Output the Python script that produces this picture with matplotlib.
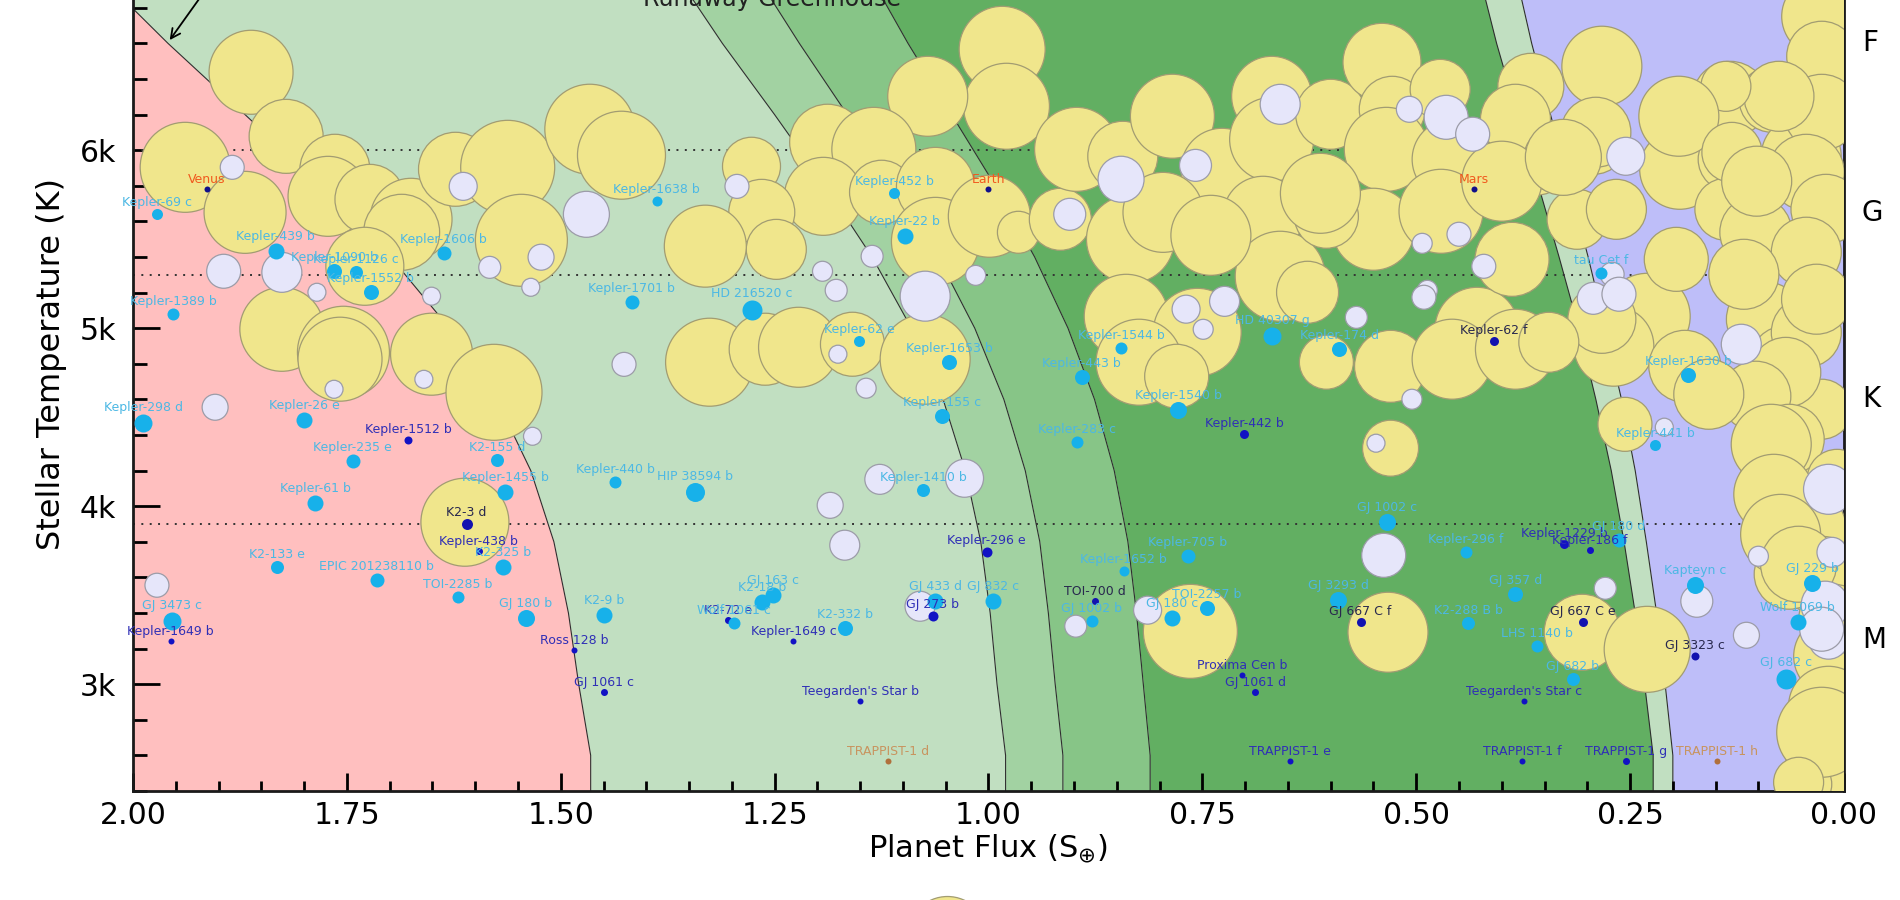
import numpy as np
import matplotlib
matplotlib.use("Agg")
import matplotlib.pyplot as plt
from matplotlib.ticker import MultipleLocator, FuncFormatter

# habitable zone limits: planet flux (S_earth) at each stellar temperature (K)
hz_temp = [2400, 2600, 3000, 3400, 3800, 4200, 4600, 5000, 5400, 5800, 6200, 6600, 7000, 7200]
recent_venus = [1.465, 1.465, 1.479, 1.491, 1.508, 1.535, 1.575, 1.630, 1.699, 1.780, 1.869, 1.959, 2.043, 2.080]
runaway_5me = [0.980, 0.980, 0.990, 0.998, 1.009, 1.027, 1.053, 1.090, 1.136, 1.191, 1.250, 1.311, 1.367, 1.392]
runaway_1me = [0.913, 0.913, 0.922, 0.930, 0.940, 0.957, 0.982, 1.016, 1.059, 1.110, 1.165, 1.221, 1.274, 1.296]
runaway_01me = [0.811, 0.811, 0.819, 0.827, 0.837, 0.853, 0.876, 0.907, 0.946, 0.992, 1.043, 1.094, 1.141, 1.162]
max_greenhouse = [0.223, 0.223, 0.233, 0.244, 0.257, 0.272, 0.290, 0.310, 0.333, 0.357, 0.382, 0.406, 0.427, 0.436]
early_mars = [0.200, 0.200, 0.209, 0.219, 0.231, 0.244, 0.260, 0.279, 0.299, 0.321, 0.343, 0.365, 0.384, 0.392]

# big yellow bubbles (flux, temperature, radius)
yellow_flux = [1.862, 1.821, 1.939, 1.869, 1.764, 1.772, 1.723, 1.675, 1.686, 1.729, 1.826, 1.754, 1.758, 1.651,
               1.578, 1.623, 1.562, 1.546, 1.466, 1.429, 1.612,
               0.984, 0.979, 1.071, 1.188, 1.134, 1.277, 1.193, 1.125, 1.062, 1.265, 1.248, 1.331, 1.062, 0.999,
               0.965, 0.916, 0.897, 0.843, 0.785, 0.727, 0.834, 0.796, 0.669, 0.669, 0.679, 0.659, 0.839, 0.756,
               0.824, 0.780, 1.326, 1.261, 1.222, 1.159, 1.074,
               0.600, 0.540, 0.528, 0.472, 0.535, 0.458, 0.366, 0.283, 0.361, 0.384, 0.293, 0.133, 0.084, 0.192,
               0.133, 0.138, 0.050, 0.312, 0.550, 0.605, 0.627, 0.429, 0.388, 0.530, 0.605, 0.458, 0.384, 0.230,
               0.269, 0.186, 0.093, 0.070, 0.256, 0.530, 0.026, 0.026, 0.026, 0.026, 0.076, 0.138, 0.193, 0.131,
               0.044, 0.266, 0.196, 0.103, 0.021, 0.044, 0.336, 0.290, 0.283, 0.044, 0.068, 0.345, 0.103, 0.084,
               0.064, 0.044, 0.026, 0.012, 0.018, 0.023, 0.306, 0.230, 0.533, 0.764, 0.064, 0.008, 0.006, 0.012,
               0.047, 0.612, 0.471, 0.400, 0.740, 0.328, 0.102, 0.117, 0.032, 0.064,
               0.085, 0.082, 0.074, 0.053, 0.026, 0.053, 0.158]
yellow_temp = [6438, 6078, 5904, 5651, 5893, 5741, 5724, 5612, 5539, 5348, 4994, 4865, 4826, 4854,
               4640, 5893, 5904, 5494, 6118, 5972, 3910,
               6567, 6247, 6303, 6045, 6005, 5910, 5741, 5764, 5797, 5651, 5443, 5461, 5488, 5629,
               5539, 5612, 6005, 5966, 6191, 5893, 5500, 5651, 6303, 6061, 5629, 5292, 5067, 4977,
               4809, 4730, 4809, 4882, 4893, 4910, 4826,
               6202, 6494, 6230, 6342, 6005, 5949, 6359, 6472, 5966, 6174, 6061, 6286, 6286, 5893,
               5949, 5668, 5966, 5612, 5556, 5629, 5202, 4994, 5387, 4786, 4809, 4826, 4882, 5067,
               4899, 4786, 5050, 4826, 4460, 4326, 4545, 6752, 6528, 6213, 6303, 6359, 6191, 5988,
               5876, 5668, 5387, 5539, 5668, 5427, 5949, 6101, 5050, 4977, 4752, 4921, 4618, 4135,
               4135, 3870, 3606, 3157, 2876, 2505, 3292, 3196, 3292, 3297, 4376, 4151, 2410, 3365,
               2438, 5758, 5657, 5826, 5522, 5960, 5826, 5303, 5163, 3618,
               4348, 4067, 3842, 3674, 2730, 2449, 4629]
yellow_rad = [42, 37, 45, 41, 35, 40, 35, 41, 38, 39, 42, 46, 42, 41,
              48, 37, 47, 46, 45, 44, 44,
              43, 43, 40, 38, 42, 29, 39, 32, 39, 33, 30, 41, 44, 41,
              21, 31, 42, 35, 42, 41, 44, 40, 40, 42, 40, 45, 42, 44,
              43, 32, 44, 36, 40, 32, 45,
              35, 39, 33, 30, 42, 40, 33, 40, 39, 35, 35, 38, 33, 40,
              32, 31, 40, 30, 41, 32, 31, 42, 37, 36, 27, 40, 40, 43,
              40, 36, 38, 33, 27, 28, 30, 40, 35, 38, 35, 25, 40, 30,
              38, 30, 32, 36, 35, 35, 33, 35, 34, 35, 35, 30, 35, 33,
              28, 40, 40, 40, 40, 40, 38, 43, 40, 47, 35, 30, 40, 35,
              28, 40, 42, 40, 40, 38, 35, 35, 35, 35,
              40, 40, 40, 38, 45, 25, 35]

# lavender bubbles
lav_flux = [1.884, 1.894, 1.826, 1.785, 1.651, 1.614, 1.583, 1.523, 1.535, 1.470, 1.904, 1.765, 1.660, 1.426,
            1.533, 1.294, 1.136, 1.194, 1.178, 1.074, 1.015, 0.905, 0.845, 0.758, 0.659, 1.176, 1.143, 0.769,
            0.749, 0.724, 0.508, 0.465, 0.434, 0.255, 0.450, 0.493, 0.421, 0.487, 0.491, 0.570, 0.271, 0.293,
            0.263, 0.120, 0.505, 0.547, 0.210, 1.127, 1.028, 1.185, 1.168, 1.080, 0.898, 0.814, 0.538, 0.279,
            0.172, 0.114, 0.100, 0.018, 0.022, 0.018, 1.972, 0.014, 0.026]
lav_temp = [5904, 5320, 5314, 5202, 5180, 5797, 5342, 5399, 5230, 5640, 4556, 4657, 4713, 4797,
            4393, 5797, 5404, 5320, 5213, 5180, 5297, 5640, 5837, 5915, 6258, 4854, 4663, 5107,
            4994, 5151, 6230, 6185, 6090, 5966, 5528, 5477, 5348, 5213, 5174, 5061, 5303, 5168,
            5191, 4910, 4601, 4354, 4444, 4151, 4157, 4005, 3781, 3438, 3326, 3416, 3724, 3539,
            3466, 3275, 3719, 4095, 3444, 3253, 3556, 3741, 3309]
lav_rad = [12, 17, 20, 9, 9, 14, 11, 13, 9, 23, 13, 9, 9, 12,
           9, 12, 11, 10, 11, 25, 10, 16, 23, 16, 20, 9, 10, 14,
           10, 15, 13, 22, 17, 19, 12, 10, 12, 10, 12, 11, 12, 16,
           17, 20, 10, 9, 9, 15, 19, 13, 15, 15, 11, 14, 22, 11,
           16, 13, 10, 25, 24, 20, 12, 15, 22]

# labelled planets; kind: c = cyan, n = blue, d = dark label, s = solar system, t = tan
pl_name = ["Venus", "Earth", "Mars", "Kepler-69 c", "Kepler-439 b", "Kepler-1090 b", "Kepler-1126 c",
           "Kepler-1552 b", "Kepler-1606 b", "Kepler-1389 b", "Kepler-1701 b", "Kepler-1638 b",
           "Kepler-298 d", "Kepler-26 e", "Kepler-1512 b", "Kepler-235 e", "K2-155 d", "Kepler-440 b",
           "Kepler-1455 b", "Kepler-61 b", "K2-3 d", "Kepler-438 b", "K2-325 b", "K2-133 e",
           "EPIC 201238110 b", "TOI-2285 b", "GJ 180 b", "K2-9 b", "GJ 3473 c", "Kepler-1649 b",
           "Ross 128 b", "GJ 1061 c", "Kepler-452 b", "Kepler-22 b", "HD 216520 c", "Kepler-62 e",
           "Kepler-1653 b", "Kepler-155 c", "Kepler-1544 b", "Kepler-443 b", "Kepler-1540 b",
           "Kepler-442 b", "Kepler-283 c", "HD 40307 g", "HIP 38594 b", "Kepler-1410 b", "Kepler-296 e",
           "GJ 163 c", "K2-18 b", "K2-72 e", "Wolf 1061 c", "K2-332 b", "Kepler-1649 c", "GJ 433 d",
           "GJ 273 b", "GJ 832 c", "Teegarden's Star b", "TRAPPIST-1 d", "TOI-700 d", "GJ 1002 b",
           "GJ 180 c", "TOI-2257 b", "Kepler-1652 b", "Kepler-705 b", "Proxima Cen b", "GJ 1061 d",
           "TRAPPIST-1 e", "Kepler-174 d", "Kepler-62 f", "tau Cet f", "Kepler-1630 b", "Kepler-441 b",
           "Kepler-1229 b", "Kepler-186 f", "GJ 180 d", "Kapteyn c", "GJ 229 b", "Wolf 1069 b",
           "GJ 3323 c", "GJ 682 c", "GJ 667 C e", "TRAPPIST-1 g", "TRAPPIST-1 h", "GJ 682 b",
           "GJ 1002 c", "Kepler-296 f", "GJ 3293 d", "GJ 667 C f", "K2-288 B b", "GJ 357 d",
           "LHS 1140 b", "Teegarden's Star c", "TRAPPIST-1 f"]
pl_flux = [1.914, 1.000, 0.433, 1.972, 1.833, 1.765, 1.739, 1.722, 1.637, 1.953, 1.417, 1.388,
           1.988, 1.800, 1.678, 1.743, 1.574, 1.436, 1.565, 1.787, 1.610, 1.596, 1.567, 1.832,
           1.715, 1.620, 1.541, 1.449, 1.954, 1.956, 1.484, 1.449, 1.110, 1.098, 1.277, 1.151,
           1.046, 1.054, 0.845, 0.891, 0.778, 0.701, 0.896, 0.668, 1.343, 1.076, 1.002,
           1.252, 1.265, 1.304, 1.298, 1.168, 1.228, 1.062, 1.065, 0.995, 1.150, 1.117, 0.876, 0.879,
           0.785, 0.745, 0.842, 0.767, 0.704, 0.688, 0.648, 0.590, 0.409, 0.284, 0.182, 0.221,
           0.327, 0.297, 0.263, 0.174, 0.037, 0.054, 0.174, 0.068, 0.305, 0.255, 0.148, 0.317,
           0.534, 0.442, 0.591, 0.565, 0.439, 0.384, 0.359, 0.374, 0.376]
pl_temp = [5780, 5780, 5780, 5640, 5433, 5320, 5315, 5202, 5421, 5079, 5146, 5713,
           4466, 4483, 4371, 4253, 4258, 4135, 4079, 4017, 3899, 3747, 3657, 3657,
           3584, 3489, 3371, 3388, 3354, 3242, 3191, 2955, 5758, 5517, 5101, 4927,
           4809, 4506, 4888, 4725, 4539, 4404, 4360, 4955, 4079, 4090, 3742,
           3500, 3461, 3360, 3343, 3315, 3242, 3466, 3382, 3466, 2905, 2567, 3466, 3354,
           3371, 3427, 3635, 3719, 3051, 2955, 2567, 4882, 4927, 5309, 4736, 4343,
           3787, 3753, 3809, 3556, 3567, 3348, 3157, 3028, 3348, 2567, 2567, 3028,
           3910, 3742, 3472, 3348, 3343, 3506, 3213, 2905, 2567]
pl_kind = ["s", "s", "s", "c", "c", "c", "c", "c", "c", "c", "c", "c",
           "c", "c", "n", "c", "c", "c", "c", "c", "d", "n", "c", "c",
           "c", "c", "c", "c", "c", "n", "n", "n", "c", "c", "c", "c",
           "c", "c", "c", "c", "c", "n", "c", "c", "c", "c", "n",
           "c", "c", "n", "c", "c", "n", "c", "n", "c", "n", "t", "d", "c",
           "c", "c", "c", "c", "n", "n", "n", "c", "d", "c", "c", "c",
           "n", "n", "c", "c", "c", "c", "d", "c", "d", "n", "t", "c",
           "c", "c", "c", "d", "c", "c", "c", "n", "n"]
pl_size = [6, 6, 6, 11, 16, 15, 13, 15, 14, 12, 14, 10,
           18, 16, 8, 14, 13, 12, 16, 16, 11, 7, 16, 13,
           14, 12, 17, 16, 18, 6, 6, 7, 11, 16, 20, 11,
           15, 15, 12, 15, 17, 9, 12, 18, 19, 13, 10,
           16, 16, 7, 12, 15, 6, 16, 10, 16, 6, 6, 7, 12,
           16, 15, 10, 14, 6, 7, 6, 15, 9, 12, 15, 11,
           9, 7, 14, 17, 17, 16, 8, 20, 9, 7, 6, 13,
           17, 12, 17, 9, 13, 15, 12, 6, 6]

spec_types = ["F", "G", "K", "M"]
spec_temp = [6600, 5650, 4600, 3250]
spec_bounds = [6000, 5300, 3900]

styles = {"c": ("#17b1ea", "#4cb8e4"), "n": ("#1212c4", "#2f2fb6"), "d": ("#1212b0", "#28284e"),
          "s": ("#10108a", "#f05a1e"), "t": ("#b0703c", "#c8945f")}

fig = plt.figure(figsize=(19, 9), dpi=100)
ax = fig.add_axes([0.070, 0.1211, 0.9005, 0.9493])

# zones
ax.fill_betweenx(hz_temp, recent_venus, 2.2, color="#ffbfbf", lw=0, zorder=0)
ax.fill_betweenx(hz_temp, runaway_5me, recent_venus, color="#c1dfc1", lw=0, zorder=0)
ax.fill_betweenx(hz_temp, runaway_1me, runaway_5me, color="#a2d2a2", lw=0, zorder=0)
ax.fill_betweenx(hz_temp, runaway_01me, runaway_1me, color="#87c587", lw=0, zorder=0)
ax.fill_betweenx(hz_temp, max_greenhouse, runaway_01me, color="#62af62", lw=0, zorder=0)
ax.fill_betweenx(hz_temp, early_mars, max_greenhouse, color="#c1dfc1", lw=0, zorder=0)
ax.fill_betweenx(hz_temp, -0.1, early_mars, color="#bebef9", lw=0, zorder=0)
for curve in [recent_venus, runaway_5me, runaway_1me, runaway_01me, max_greenhouse, early_mars]:
    ax.plot(curve, hz_temp, color="#2e2e2e", lw=0.8, zorder=1)

for t in spec_bounds:
    ax.axhline(t, color="#333333", lw=1.4, ls=(0, (1, 3.3)), zorder=2)

# bubbles
ys = (np.array(yellow_rad) * 1.44) ** 2
ax.scatter(yellow_flux, yellow_temp, s=ys, c="#f0e68c", edgecolors="#a29c72", linewidths=0.9, zorder=3)
ls_ = (np.array(lav_rad) * 1.44) ** 2
ax.scatter(lav_flux, lav_temp, s=ls_, c="#e6e6fa", edgecolors="#9c9ca8", linewidths=0.9, zorder=4)

# planets
for name, f, t, k, d in zip(pl_name, pl_flux, pl_temp, pl_kind, pl_size):
    dot, lab = styles[k]
    ax.scatter([f], [t], s=(d * 0.72) ** 2, c=dot, linewidths=0, zorder=5)
    ax.annotate(name, (f, t), xytext=(0, (d / 2 + 6.5) * 0.72), textcoords="offset points",
                ha="center", va="center", fontsize=9, color=lab, zorder=6)

ax.text(1.2535, 6809, "Runaway Greenhouse", ha="center", va="baseline", fontsize=17, color="#222222")
ax.annotate("Recent Venus", xy=(1.959, 6606), xytext=(1.874, 7110), fontsize=17,
            ha="center", va="bottom", annotation_clip=False,
            arrowprops=dict(arrowstyle="->", color="black", lw=1.3))

ax.set_xlim(2.0, 0.0)
ax.set_ylim(2400, 7200)
ax.xaxis.set_major_locator(MultipleLocator(0.25))
ax.xaxis.set_minor_locator(MultipleLocator(0.05))
ax.xaxis.set_major_formatter(FuncFormatter(lambda v, p: "%.2f" % abs(v)))
ax.yaxis.set_major_locator(MultipleLocator(1000))
ax.yaxis.set_minor_locator(MultipleLocator(200))
ax.yaxis.set_major_formatter(FuncFormatter(lambda v, p: "%dk" % round(v / 1000)))

ax.tick_params(axis="x", which="major", direction="in", length=13, width=2, labelsize=21.5, pad=7)
ax.tick_params(axis="x", which="minor", direction="in", length=7, width=2)
ax.tick_params(axis="y", which="major", direction="in", length=19.5, width=2, labelsize=21.5, pad=12)
ax.tick_params(axis="y", which="minor", direction="in", length=10, width=2)
for side in ["left", "bottom", "right"]:
    ax.spines[side].set_linewidth(2)
    ax.spines[side].set_color("#1a1a1a")

ax.set_xlabel("Planet Flux (S$_{\\oplus}$)", fontsize=22)
ax.xaxis.set_label_coords(0.5, -0.049)
ax.set_ylabel("Stellar Temperature (K)", fontsize=23)
ax.yaxis.set_label_coords(-0.0386, 0.5)

tr = ax.get_yaxis_transform()
for lab, t in zip(spec_types, spec_temp):
    ax.text(1.0105, t, lab, transform=tr, ha="left", va="center", fontsize=20)

# legend marker peeking in below the axis label
ax.scatter([947 / 1900], [-0.04], s=(40 * 1.44) ** 2, c="#f0e68c", edgecolors="#a29c72",
           linewidths=0.9, transform=fig.transFigure, clip_on=False, zorder=3)

fig.savefig("out.png", dpi=100)
